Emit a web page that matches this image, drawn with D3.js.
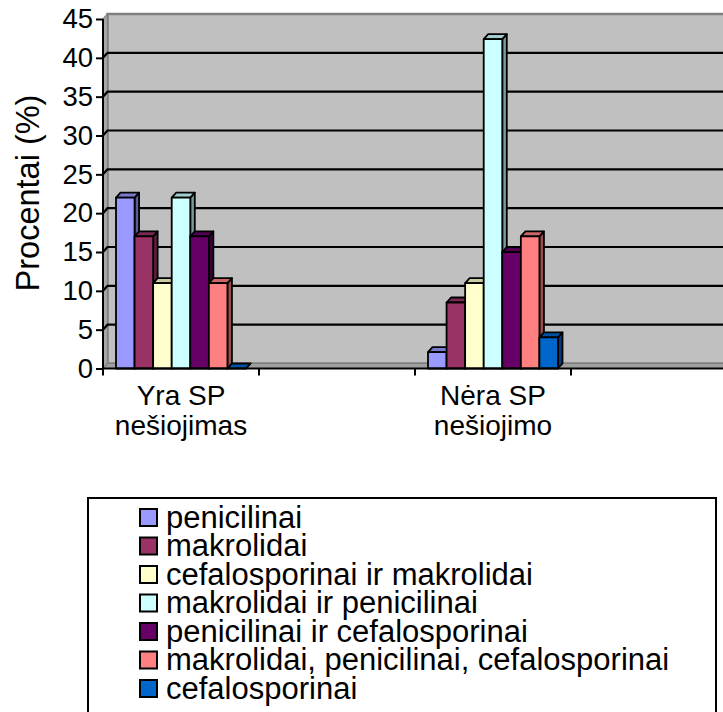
<!DOCTYPE html>
<html>
<head>
<meta charset="utf-8">
<script src="https://cdn.jsdelivr.net/npm/d3@7"></script>
<style>
  body { margin: 0; background: #fff; }
  svg { display: block; }
  text { font-family: Arial, "Liberation Sans", sans-serif; fill: #000; }
</style>
</head>
<body>
<svg id="chart" width="723" height="712"></svg>
<script>
// Antibiotic groups used, split by carriage status (percent of patients)
const categoryLines = [["Yra SP", "nešiojimas"], ["Nėra SP", "nešiojimo"]];
const categorySlots = [0, 2];          // category positions on a 4-slot axis
const slotCount = 4;
const seriesNames = [
  "penicilinai",
  "makrolidai",
  "cefalosporinai ir makrolidai",
  "makrolidai ir penicilinai",
  "penicilinai ir cefalosporinai",
  "makrolidai, penicilinai, cefalosporinai",
  "cefalosporinai"
];
const seriesColors = ["#9999FF", "#993366", "#FFFFCC", "#CCFFFF", "#660066", "#FF8080", "#0066CC"];
// values per series: [Yra SP nešiojimas, Nėra SP nešiojimo]
const seriesValues = [
  [22, 2.1],
  [17, 8.5],
  [11, 11],
  [22, 42.4],
  [17, 15],
  [11, 17],
  [0, 4]
];
const yTicks = [0, 5, 10, 15, 20, 25, 30, 35, 40, 45];
const yTitle = "Procentai (%)";

const svg = d3.select("#chart");

// 3D depth offset of the floor / walls
const DX = 4.5, DY = -5;
const x0 = 103, xEnd = 727;
const y = d3.scaleLinear().domain([0, 45]).range([368.5, 19]);

const slot = d3.scaleBand().domain(d3.range(slotCount)).range([x0, xEnd]).padding(0);
const inner = d3.scaleBand().domain(d3.range(seriesNames.length))
  .range([0, slot.bandwidth()]).paddingInner(0).paddingOuter(0.7);

const shade = (c, k) => { const r = d3.rgb(c); return d3.rgb(r.r * k, r.g * k, r.b * k).formatHex(); };
const poly = pts => "M" + pts.map(p => p.join(",")).join("L") + "Z";

// walls and floor
const wallX0 = x0 + DX, wallTop = y(45) + DY, wallBottom = y(0) + DY;
svg.append("path")
  .attr("d", poly([[wallX0, wallTop], [xEnd, wallTop], [xEnd, wallBottom], [wallX0, wallBottom]]))
  .attr("fill", "#C0C0C0").attr("stroke", "#808080").attr("stroke-width", 2.5);
svg.append("path")
  .attr("d", poly([[x0, y(45)], [wallX0, wallTop], [wallX0, wallBottom], [x0, y(0)]]))
  .attr("fill", "#A6A6A6").attr("stroke", "#808080").attr("stroke-width", 1.2);
svg.append("path")
  .attr("d", poly([[x0, y(0)], [wallX0, wallBottom], [xEnd, wallBottom], [xEnd, y(0)]]))
  .attr("fill", "#A0A0A0").attr("stroke", "#808080").attr("stroke-width", 1.2);

// gridlines on back and side wall
const grid = yTicks.filter(v => v > 0 && v < 45);
svg.append("g").selectAll("path").data(grid).join("path")
  .attr("d", v => `M${x0},${y(v)}L${wallX0},${y(v) + DY}L${xEnd},${y(v) + DY}`)
  .attr("fill", "none").attr("stroke", "#000").attr("stroke-width", 2.2);

// bars (side, top, front), drawn left to right
const bars = [];
categorySlots.forEach((s, ci) => {
  seriesNames.forEach((name, si) => {
    bars.push({ x: slot(s) + inner(si), w: inner.bandwidth(), v: seriesValues[si][ci], c: seriesColors[si] });
  });
});
const bg = svg.append("g").attr("stroke", "#000").attr("stroke-width", 1.8).attr("stroke-linejoin", "round");
bars.forEach(b => {
  const xl = b.x, xr = b.x + b.w, yt = y(b.v), yb = y(0);
  bg.append("path").attr("d", poly([[xr, yb], [xr + DX, yb + DY], [xr + DX, yt + DY], [xr, yt]]))
    .attr("fill", shade(b.c, 0.6));
  bg.append("path").attr("d", poly([[xl, yt], [xl + DX, yt + DY], [xr + DX, yt + DY], [xr, yt]]))
    .attr("fill", shade(b.c, 0.8));
  if (b.v > 0) bg.append("path").attr("d", poly([[xl, yb], [xl, yt], [xr, yt], [xr, yb]])).attr("fill", b.c);
});

// value axis
const yAxis = svg.append("g").attr("transform", `translate(${x0},0)`)
  .call(d3.axisLeft(y).tickValues(yTicks).tickSize(7).tickPadding(3));
yAxis.select(".domain").attr("stroke", "#000").attr("stroke-width", 2).attr("d", `M0,${y(45)}V${y(0)}`);
yAxis.selectAll(".tick line").attr("stroke", "#000").attr("stroke-width", 2);
yAxis.selectAll(".tick text").attr("font-size", 27.5).attr("font-family", "Arial, 'Liberation Sans', sans-serif").attr("fill", "#000");

// category axis
const slotEdges = d3.range(slotCount + 1).map(i => x0 + i * slot.bandwidth());
svg.append("path").attr("d", `M${x0},${y(0)}H${xEnd}`).attr("stroke", "#000").attr("stroke-width", 2);
svg.append("g").selectAll("line").data(slotEdges).join("line")
  .attr("x1", d => d).attr("x2", d => d).attr("y1", y(0)).attr("y2", y(0) + 7)
  .attr("stroke", "#000").attr("stroke-width", 2);
const cat = svg.append("g").selectAll("text").data(categorySlots).join("text")
  .attr("x", s => slot(s) + slot.bandwidth() / 2).attr("y", 405)
  .attr("text-anchor", "middle").attr("font-size", 28);
cat.each(function (s, i) {
  d3.select(this).selectAll("tspan").data(categoryLines[i]).join("tspan")
    .attr("x", slot(s) + slot.bandwidth() / 2).attr("dy", (d, j) => j ? 30 : 0).text(d => d);
});

// axis title
svg.append("text").attr("transform", `translate(39,193) rotate(-90)`)
  .attr("text-anchor", "middle").attr("font-size", 32.5).text(yTitle);

// legend
svg.append("rect").attr("x", 88).attr("y", 498).attr("width", 628).attr("height", 240)
  .attr("fill", "#fff").attr("stroke", "#000").attr("stroke-width", 2);
const items = svg.append("g").selectAll("g").data(seriesNames).join("g")
  .attr("transform", (d, i) => `translate(140,${509 + i * 28.5})`);
items.append("rect").attr("width", 17).attr("height", 17)
  .attr("fill", (d, i) => seriesColors[i]).attr("stroke", "#000").attr("stroke-width", 2);
items.append("text").attr("x", 26).attr("y", 18.5).attr("font-size", 31).text(d => d);
</script>
</body>
</html>
